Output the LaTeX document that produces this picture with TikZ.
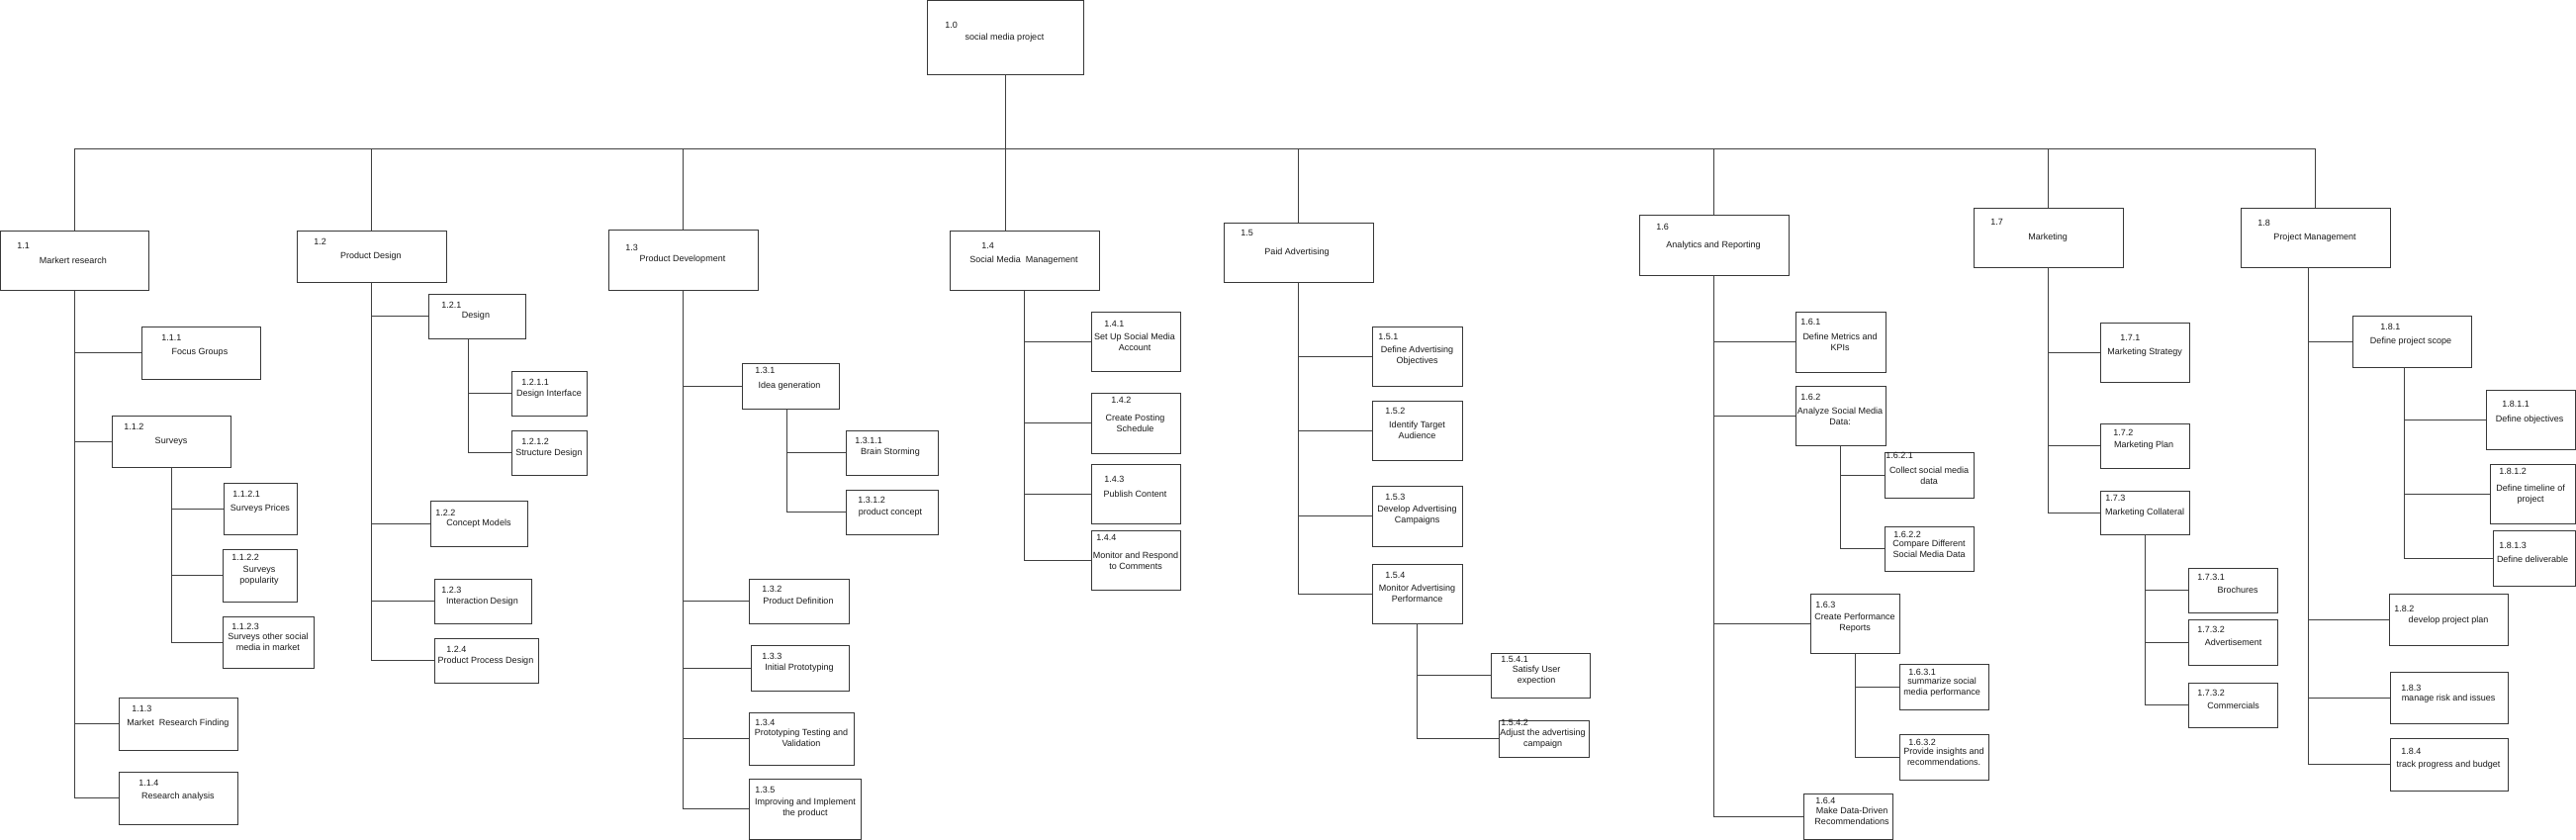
\documentclass[tikz,border=0pt]{standalone}
\usepackage{fontspec}
\setmainfont{Liberation Sans}
\begin{document}
\begin{tikzpicture}[x=0.5pt,y=-0.5pt,
  wbox/.style={draw=black!78,line width=0.42pt,inner sep=0pt,outer sep=0pt,fill=white},
  wnum/.style={inner sep=0pt,font=\fontsize{4.5}{5.5}\selectfont,text=black!90},
  wtxt/.style={inner sep=0pt,align=center,font=\fontsize{4.5}{5.5}\selectfont,text=black!90},
  wline/.style={draw=black!75,line width=0.4pt}]
\newcommand\wbs[5]{%
  \pgfmathsetmacro\wbw{(#4-#2)*0.5}%
  \pgfmathsetmacro\wbh{(#5-#3)*0.5}%
  \node[wbox,minimum width=\wbw pt,minimum height=\wbh pt] (#1) at ({(#2+#4)/2},{(#3+#5)/2}) {};}
\newcommand\wt[7]{%
  \node[wnum,anchor=west] (#1n) at (#2,#3) {#4};
  \node[wtxt] (#1t) at (#5,#6) {#7};}
% stem: top of stem, list of non-last children, last child
\newcommand\wstem[3]{%
  \coordinate (stemtop) at (#1);
  \draw[wline] (stemtop) |- (#3.west);
  \foreach \c in {#2} \draw[wline] (\c.west) -- (\c.west -| stemtop);}
\fill[white] (0,0) rectangle (2604,849);
\useasboundingbox (0,0) rectangle (2604,849);
\coordinate (bus) at (0,150);
% boxes
\wbs{root}{937}{0}{1095}{75}
\wbs{p11}{0}{233}{150}{293}
\wbs{p111}{143}{330}{263}{383}
\wbs{p112}{113}{420}{233}{472}
\wbs{p1121}{226}{488}{300}{540}
\wbs{p1122}{225}{555}{300}{608}
\wbs{p1123}{225}{623}{317}{675}
\wbs{p113}{120}{705}{240}{758}
\wbs{p114}{120}{780}{240}{833}
\wbs{p12}{300}{233}{451}{285}
\wbs{p121}{433}{297}{531}{342}
\wbs{p1211}{517}{375}{593}{420}
\wbs{p1212}{517}{435}{593}{480}
\wbs{p122}{435}{506}{533}{552}
\wbs{p123}{439}{585}{537}{630}
\wbs{p124}{439}{645}{544}{690}
\wbs{p13}{615}{232}{766}{293}
\wbs{p131}{750}{367}{848}{413}
\wbs{p1311}{855}{435}{948}{480}
\wbs{p1312}{855}{495}{948}{540}
\wbs{p132}{757}{585}{858}{630}
\wbs{p133}{759}{652}{858}{698}
\wbs{p134}{757}{720}{863}{773}
\wbs{p135}{757}{787}{870}{848}
\wbs{p14}{960}{233}{1111}{293}
\wbs{p141}{1103}{315}{1193}{375}
\wbs{p142}{1103}{397}{1193}{458}
\wbs{p143}{1103}{469}{1193}{529}
\wbs{p144}{1103}{536}{1193}{596}
\wbs{p15}{1237}{225}{1388}{285}
\wbs{p151}{1387}{330}{1478}{390}
\wbs{p152}{1387}{405}{1478}{465}
\wbs{p153}{1387}{491}{1478}{552}
\wbs{p154}{1387}{570}{1478}{630}
\wbs{p1541}{1507}{660}{1607}{705}
\wbs{p1542}{1515}{728}{1606}{765}
\wbs{p16}{1657}{217}{1808}{278}
\wbs{p161}{1815}{315}{1906}{376}
\wbs{p162}{1815}{390}{1906}{450}
\wbs{p1621}{1905}{457}{1995}{503}
\wbs{p1622}{1905}{532}{1995}{577}
\wbs{p163}{1830}{600}{1920}{660}
\wbs{p1631}{1920}{671}{2010}{717}
\wbs{p1632}{1920}{742}{2010}{788}
\wbs{p164}{1823}{802}{1913}{848}
\wbs{p17}{1995}{210}{2146}{270}
\wbs{p171}{2123}{326}{2213}{386}
\wbs{p172}{2123}{428}{2213}{473}
\wbs{p173}{2123}{496}{2213}{540}
\wbs{p1731}{2212}{574}{2302}{619}
\wbs{p1732}{2212}{626}{2302}{672}
\wbs{p1733}{2212}{690}{2302}{735}
\wbs{p18}{2265}{210}{2416}{270}
\wbs{p181}{2378}{319}{2498}{371}
\wbs{p1811}{2513}{394}{2603}{454}
\wbs{p1812}{2517}{469}{2603}{529}
\wbs{p1813}{2520}{536}{2603}{592}
\wbs{p182}{2415}{600}{2535}{652}
\wbs{p183}{2416}{679}{2535}{731}
\wbs{p184}{2416}{746}{2535}{799}
% connectors
\draw[wline] (p11.north) |- (bus -| p18.north) -- (p18.north);
\draw[wline] (root.south) -- (root.south |- p14.north);
\foreach \p in {p12,p13,p15,p16,p17} \draw[wline] (\p.north) -- (\p.north |- bus);
\wstem{p11.south}{p111,p112,p113}{p114}
\wstem{p112.south}{p1121,p1122}{p1123}
\wstem{p12.south}{p121,p122,p123}{p124}
\wstem{[xshift=-4.5pt]p121.south}{p1211}{p1212}
\wstem{p13.south}{p131,p132,p133,p134}{p135}
\wstem{[xshift=-2pt]p131.south}{p1311}{p1312}
\wstem{p14.south}{p141,p142,p143}{p144}
\wstem{p15.south}{p151,p152,p153}{p154}
\wstem{p154.south}{p1541}{p1542}
\wstem{p16.south}{p161,p162,p163}{p164}
\wstem{p162.south}{p1621}{p1622}
\wstem{p163.south}{p1631}{p1632}
\wstem{p17.south}{p171,p172}{p173}
\wstem{p173.south}{p1731,p1732}{p1733}
\wstem{[xshift=-3.75pt]p18.south}{p181,p182,p183}{p184}
\wstem{[xshift=-4pt]p181.south}{p1811,p1812}{p1813}
% texts
\wt{root}{955}{25}{1.0}{1015.5}{38}{social media project}
\wt{p11}{17}{248}{1.1}{74}{263}{Markert research}
\wt{p111}{163}{341}{1.1.1}{202}{356}{Focus Groups}
\wt{p112}{125}{431}{1.1.2}{173}{446}{Surveys}
\wt{p1121}{235}{499}{1.1.2.1}{263}{514}{Surveys Prices}
\wt{p1122}{234}{563}{1.1.2.2}{262}{581.5}{Surveys\\popularity}
\wt{p1123}{234}{633}{1.1.2.3}{271}{649}{Surveys other social\\media in market}
\wt{p113}{133}{716}{1.1.3}{180}{731}{Market\ \ Research Finding}
\wt{p114}{140}{791}{1.1.4}{180}{805}{Research analysis}
\wt{p12}{317}{244}{1.2}{375}{259}{Product Design}
\wt{p121}{446}{308}{1.2.1}{481}{319}{Design}
\wt{p1211}{527}{386}{1.2.1.1}{555}{398}{Design Interface}
\wt{p1212}{527}{446}{1.2.1.2}{555}{458}{Structure Design}
\wt{p122}{440}{518}{1.2.2}{484}{529}{Concept Models}
\wt{p123}{446}{596}{1.2.3}{487.5}{608}{Interaction Design}
\wt{p124}{451}{656}{1.2.4}{491}{668}{Product Process Design}
\wt{p13}{632}{250}{1.3}{690}{262.5}{Product Development}
\wt{p131}{763}{374}{1.3.1}{798}{390}{Idea generation}
\wt{p1311}{864}{445}{1.3.1.1}{900}{457.5}{Brain Storming}
\wt{p1312}{867}{505}{1.3.1.2}{900}{518}{product concept}
\wt{p132}{770}{595}{1.3.2}{807}{607.5}{Product Definition}
\wt{p133}{770}{663}{1.3.3}{808}{675}{Initial Prototyping}
\wt{p134}{763}{730}{1.3.4}{810}{746}{Prototyping Testing and\\Validation}
\wt{p135}{763}{798}{1.3.5}{814}{817}{Improving and Implement\\the product}
\wt{p14}{992}{248}{1.4}{1035}{263}{Social Media\ \ Management}
\wt{p141}{1116}{327}{1.4.1}{1147}{345.5}{Set Up Social Media\\Account}
\wt{p142}{1123}{404}{1.4.2}{1147.5}{428}{Create Posting\\Schedule}
\wt{p143}{1116}{484}{1.4.3}{1147.5}{499}{Publish Content}
\wt{p144}{1108}{543}{1.4.4}{1148}{566.5}{Monitor and Respond\\to Comments}
\wt{p15}{1254}{235.5}{1.5}{1311}{254.7}{Paid Advertising}
\wt{p151}{1393}{340}{1.5.1}{1432.5}{360}{Define Advertising\\Objectives}
\wt{p152}{1400}{415}{1.5.2}{1432.5}{435}{Identify Target\\Audience}
\wt{p153}{1400}{502}{1.5.3}{1432.5}{521}{Develop Advertising\\Campaigns}
\wt{p154}{1400}{581}{1.5.4}{1432.5}{600}{Monitor Advertising\\Performance}
\wt{p1541}{1517}{666}{1.5.4.1}{1553}{683}{Satisfy User\\expection}
\wt{p1542}{1517}{730}{1.5.4.2}{1559.5}{746.5}{Adjust the advertising\\campaign}
\wt{p16}{1674}{229}{1.6}{1732}{248}{Analytics and Reporting}
\wt{p161}{1820}{325}{1.6.1}{1860}{345.5}{Define Metrics and\\KPIs}
\wt{p162}{1820}{401}{1.6.2}{1860}{421}{Analyze Social Media\\Data:}
\wt{p1621}{1906}{460}{1.6.2.1}{1950}{480.5}{Collect social media\\data}
\wt{p1622}{1914}{540}{1.6.2.2}{1950}{555}{Compare Different\\Social Media Data}
\wt{p163}{1835}{611}{1.6.3}{1875}{630}{Create Performance\\Reports}
\wt{p1631}{1929}{679}{1.6.3.1}{1963}{694.5}{summarize social\\media performance}
\wt{p1632}{1929}{750}{1.6.3.2}{1965}{765}{Provide insights and\\recommendations.}
\wt{p164}{1835}{809.7}{1.6.4}{1872}{825}{Make Data-Driven\\Recommendations}
\wt{p17}{2012}{224}{1.7}{2070}{240}{Marketing}
\wt{p171}{2143}{341}{1.7.1}{2168}{356}{Marketing Strategy}
\wt{p172}{2136}{437}{1.7.2}{2167}{450}{Marketing Plan}
\wt{p173}{2128}{503}{1.7.3}{2168}{518}{Marketing Collateral}
\wt{p1731}{2221}{583.6}{1.7.3.1}{2262}{596}{Brochures}
\wt{p1732}{2221}{636.5}{1.7.3.2}{2257.5}{649}{Advertisement}
\wt{p1733}{2221}{700}{1.7.3.2}{2257.5}{713}{Commercials}
\wt{p18}{2282}{225}{1.8}{2340}{240}{Project Management}
\wt{p181}{2406}{330}{1.8.1}{2437}{345}{Define project scope}
\wt{p1811}{2529}{408}{1.8.1.1}{2557}{424}{Define objectives}
\wt{p1812}{2526}{476}{1.8.1.2}{2558}{500}{Define timeline of\\project}
\wt{p1813}{2526}{551}{1.8.1.3}{2560}{565}{Define deliverable}
\wt{p182}{2420}{615}{1.8.2}{2475}{627}{develop project plan}
\wt{p183}{2427}{695}{1.8.3}{2475}{706}{manage risk and issues}
\wt{p184}{2427}{759}{1.8.4}{2475}{773}{track progress and budget}
\end{tikzpicture}
\end{document}
